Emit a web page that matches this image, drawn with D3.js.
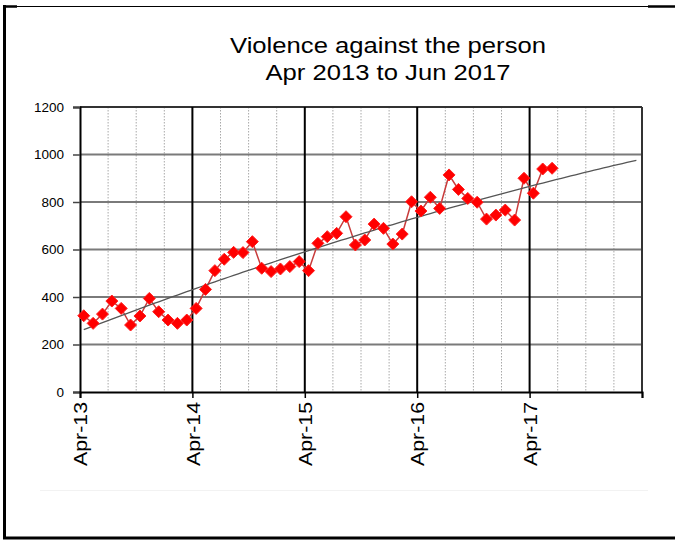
<!DOCTYPE html>
<html><head><meta charset="utf-8">
<script src="https://cdn.jsdelivr.net/npm/d3@7"></script>
<style>body{margin:0;background:#fff}svg{display:block}text{font-family:Arial,"Liberation Sans",sans-serif;fill:#000}</style>
</head><body><svg id="c" width="675" height="540"></svg>
<script>
// ---- data ----
const monthIndex = d3.range(51); // Apr 2013 .. Jun 2017
const values = [321,289,328,383,352,282,320,394,338,303,289,303,
                352,432,511,559,588,587,633,521,507,518,528,549,
                511,626,654,668,738,619,640,707,689,623,665,801,
                762,820,773,914,853,815,799,728,745,766,724,900,
                837,939,942];
const yTicks = [0,200,400,600,800,1000,1200];
const xTickMonths = [0,12,24,36,48,60];
const xTickLabels = ["Apr-13","Apr-14","Apr-15","Apr-16","Apr-17",""];
const minorMonths = d3.range(3,60,3).filter(m => m % 12 !== 0);
const titleLines = ["Violence against the person","Apr 2013 to Jun 2017"];
const trendForward = 9.4;

// ---- layout ----
const L = 80, R = 642, T = 107, B = 392, offset = 0.4;
const svg = d3.select("#c");
const x = d3.scaleLinear().domain([0,60]).range([L,R]);
const y = d3.scaleLinear().domain([0,1200]).range([B,T]);

// frame
svg.append("line").attr("x1",4.5).attr("x2",4.5).attr("y1",5).attr("y2",539).attr("stroke","#000").attr("stroke-width",3);
svg.append("line").attr("x1",3).attr("x2",675).attr("y1",6.5).attr("y2",6.5).attr("stroke","#000").attr("stroke-width",1.2);
svg.append("line").attr("x1",3).attr("x2",17).attr("y1",6.5).attr("y2",6.5).attr("stroke","#000").attr("stroke-width",2.5);
svg.append("line").attr("x1",648).attr("x2",675).attr("y1",6.5).attr("y2",6.5).attr("stroke","#000").attr("stroke-width",2.5);
svg.append("line").attr("x1",3).attr("x2",675).attr("y1",538).attr("y2",538).attr("stroke","#000").attr("stroke-width",3);
svg.append("line").attr("x1",40).attr("x2",648).attr("y1",490.5).attr("y2",490.5).attr("stroke","#f2f2f2").attr("stroke-width",1);

// title
svg.append("g").selectAll("text").data(titleLines).join("text")
  .attr("x",388).attr("y",(d,i)=>53+i*27).attr("text-anchor","middle")
  .attr("font-size",22).attr("textLength",(d,i)=> i===0?316:245).attr("lengthAdjust","spacingAndGlyphs")
  .text(d=>d);

// minor vertical grid
svg.append("g").selectAll("line").data(minorMonths).join("line")
  .attr("x1",d=>x(d)).attr("x2",d=>x(d)).attr("y1",T).attr("y2",B)
  .attr("stroke","#a8a8a8").attr("stroke-width",1).attr("stroke-dasharray","1.5,1.5");

// horizontal grid
svg.append("g").selectAll("line").data(yTicks.filter(v=>v>0)).join("line")
  .attr("x1",L).attr("x2",R).attr("y1",d=>y(d)).attr("y2",d=>y(d))
  .attr("stroke",d=>d===1200?"#333":"#7a7a7a").attr("stroke-width",2);

// major vertical grid
svg.append("g").selectAll("line").data(xTickMonths.filter(m=>m>0)).join("line")
  .attr("x1",d=>x(d)).attr("x2",d=>x(d)).attr("y1",T).attr("y2",B)
  .attr("stroke",d=>d===60?"#333":"#000").attr("stroke-width",2);

// y axis
const yAxis = svg.append("g").attr("transform",`translate(${L},0)`)
  .call(d3.axisLeft(y).tickValues(yTicks).tickSize(7).tickPadding(9).tickFormat(d3.format("d")));
yAxis.select(".domain").attr("stroke","#000").attr("stroke-width",2);
yAxis.selectAll(".tick line").attr("stroke","#444").attr("stroke-width",1.5);
yAxis.selectAll("text").attr("font-size",13.5).attr("font-family","Arial, 'Liberation Sans', sans-serif").attr("fill","#000");

// x axis
const xAxis = svg.append("g").attr("transform",`translate(0,${B})`)
  .call(d3.axisBottom(x).tickValues(xTickMonths).tickSize(6).tickFormat((d,i)=>xTickLabels[i]));
xAxis.select(".domain").attr("stroke","#000").attr("stroke-width",2);
xAxis.selectAll(".tick line").attr("stroke","#000").attr("stroke-width",1.5);
xAxis.selectAll("text").attr("font-size",19).attr("font-family","Arial, 'Liberation Sans', sans-serif").attr("fill","#000")
  .attr("text-anchor","end").attr("transform","rotate(-90)").attr("x",-10).attr("y",0).attr("dy","0.35em")
  .attr("textLength",d=>d===60?null:64).attr("lengthAdjust","spacingAndGlyphs");

// quadratic trend (least squares on the data)
function quadFit(ts, vs){
  let s=[0,0,0,0,0], sy=[0,0,0];
  ts.forEach((t,i)=>{ for(let k=0;k<5;k++) s[k]+=Math.pow(t,k); for(let k=0;k<3;k++) sy[k]+=vs[i]*Math.pow(t,k); });
  const A=[[s[0],s[1],s[2]],[s[1],s[2],s[3]],[s[2],s[3],s[4]]], b=sy.slice();
  for(let c=0;c<3;c++){ for(let r=c+1;r<3;r++){ const f=A[r][c]/A[c][c]; for(let k=c;k<3;k++) A[r][k]-=f*A[c][k]; b[r]-=f*b[c]; } }
  const sol=[0,0,0];
  for(let r=2;r>=0;r--){ let v=b[r]; for(let k=r+1;k<3;k++) v-=A[r][k]*sol[k]; sol[r]=v/A[r][r]; }
  return sol;
}
const coef = quadFit(monthIndex, values);
const tEnd = monthIndex[monthIndex.length-1] + trendForward;
const trendPts = d3.range(0, tEnd+0.001, 0.5).map(t => [t, coef[0]+coef[1]*t+coef[2]*t*t]);

// series line
svg.append("path").datum(monthIndex)
  .attr("fill","none").attr("stroke","#c83c3c").attr("stroke-width",1.5)
  .attr("d", d3.line().x(i=>x(i+offset)).y(i=>y(values[i])));

// trend line
svg.append("path").datum(trendPts)
  .attr("fill","none").attr("stroke","#555").attr("stroke-width",1.3)
  .attr("d", d3.line().x(d=>x(d[0]+offset)).y(d=>y(d[1])));

// markers
const h = 6;
svg.append("g").selectAll("path").data(monthIndex).join("path")
  .attr("transform", i=>`translate(${x(i+offset)},${y(values[i])})`)
  .attr("d", `M0,${-h}L${h},0L0,${h}L${-h},0Z`)
  .attr("fill","#ff0000").attr("stroke","#ff2020").attr("stroke-width",1);
</script></body></html>
